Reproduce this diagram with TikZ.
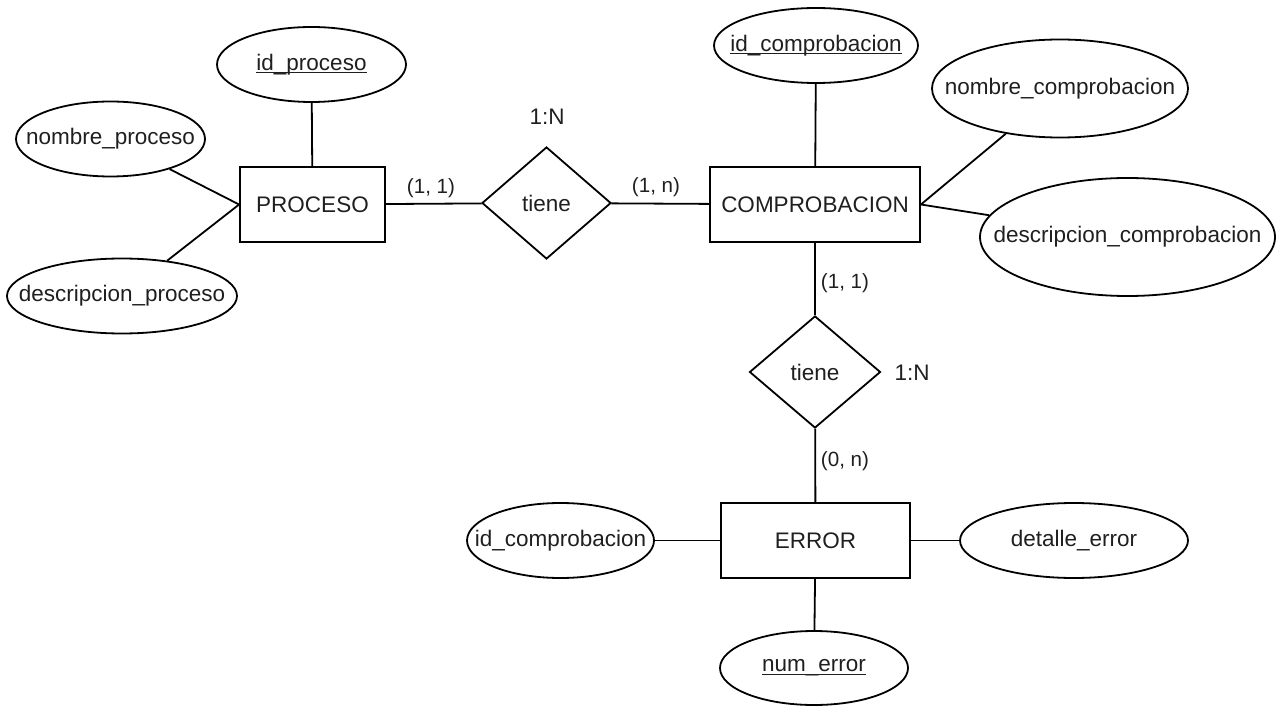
\documentclass[tikz,border=0pt]{standalone}
\usepackage{fontspec}
\setmainfont{Liberation Sans}
\usetikzlibrary{shapes.geometric}

% underlined key attribute: rule at underscore level
\newcommand\keytext[1]{\sbox0{#1}\makebox[0pt][l]{\rule[-3pt]{\wd0}{1.3pt}}\usebox0}

\begin{document}
\begin{tikzpicture}[x=1pt,y=-1pt,
  line width=1.8pt,
  every node/.style={font=\fontsize{22.5}{26}\selectfont, text=black!88},
  entity/.style={draw, rectangle, inner sep=0pt},
  % attribute ellipses keep their given size; the label is centred in a zero-width box
  attr/.style={draw, ellipse, inner sep=0pt, execute at begin node={\hbox to 0pt\bgroup\hss}, execute at end node={\hss\egroup}},
  rel/.style={draw, diamond, inner sep=0pt},
  card/.style={font=\fontsize{20.6}{24}\selectfont, inner sep=0pt},
  ratio/.style={inner sep=0pt}
]
\useasboundingbox (0,0) rectangle (1282,711);

% entities
\node[entity, minimum width=145pt, minimum height=75pt] (proceso) at (312.5,204.5) {PROCESO};
\node[entity, minimum width=210pt, minimum height=75pt] (comp) at (815,204.5) {COMPROBACION};
\node[entity, minimum width=189pt, minimum height=75pt] (error) at (815.5,540.5) {ERROR};

% relationships
\node[rel, minimum width=129pt, minimum height=112pt] (tiene1) at (546.5,203) {tiene};
\node[rel, minimum width=131pt, minimum height=112pt] (tiene2) at (815,372) {tiene};

% attributes of PROCESO
\node[attr, minimum width=189pt, minimum height=75pt] (idproc) at (311.5,64.5) {\keytext{id\_proceso}};
\node[attr, minimum width=189pt, minimum height=75pt] (nomproc) at (110.5,139) {nombre\_proceso};
\node[attr, minimum width=230pt, minimum height=75pt] (descproc) at (122,296) {descripcion\_proceso};

% attributes of COMPROBACION
\node[attr, minimum width=204pt, minimum height=75pt] (idcomp) at (816,45.5) {\keytext{id\_comprobacion}};
\node[attr, minimum width=256pt, minimum height=98pt] (nomcomp) at (1060,88.5) {nombre\_comprobacion};
\node[attr, minimum width=295pt, minimum height=118pt] (desccomp) at (1127.5,237) {descripcion\_comprobacion};

% attributes of ERROR
\node[attr, minimum width=187pt, minimum height=75pt] (iderr) at (560.5,540.5) {id\_comprobacion};
\node[attr, minimum width=228pt, minimum height=75pt] (detalle) at (1074,540.5) {detalle\_error};
\node[attr, minimum width=188pt, minimum height=74pt] (numerr) at (814,668) {\keytext{num\_error}};

% connectors
\draw (idproc) -- (proceso);
\draw (nomproc) -- (proceso.west);
\draw (descproc) -- (proceso.west);
\draw (proceso) -- (tiene1);
\draw (tiene1) -- (comp);
\draw (idcomp) -- (comp);
\draw (nomcomp) -- (comp.east);
\draw (desccomp) -- (comp.east);
\draw (comp) -- (tiene2);
\draw (tiene2) -- (error);
\draw (iderr) -- (error);
\draw (error) -- (detalle);
\draw (error) -- (numerr);

% cardinalities
\node[card] (c1) at (431,188) {(1, 1)};
\node[card] (c2) at (656,187) {(1, n)};
\node[card] (c3) at (845,283) {(1, 1)};
\node[card] (c4) at (845,461) {(0, n)};
\node[ratio] (r1) at (547,117) {1:N};
\node[ratio] (r2) at (912,373) {1:N};
\end{tikzpicture}
\end{document}
